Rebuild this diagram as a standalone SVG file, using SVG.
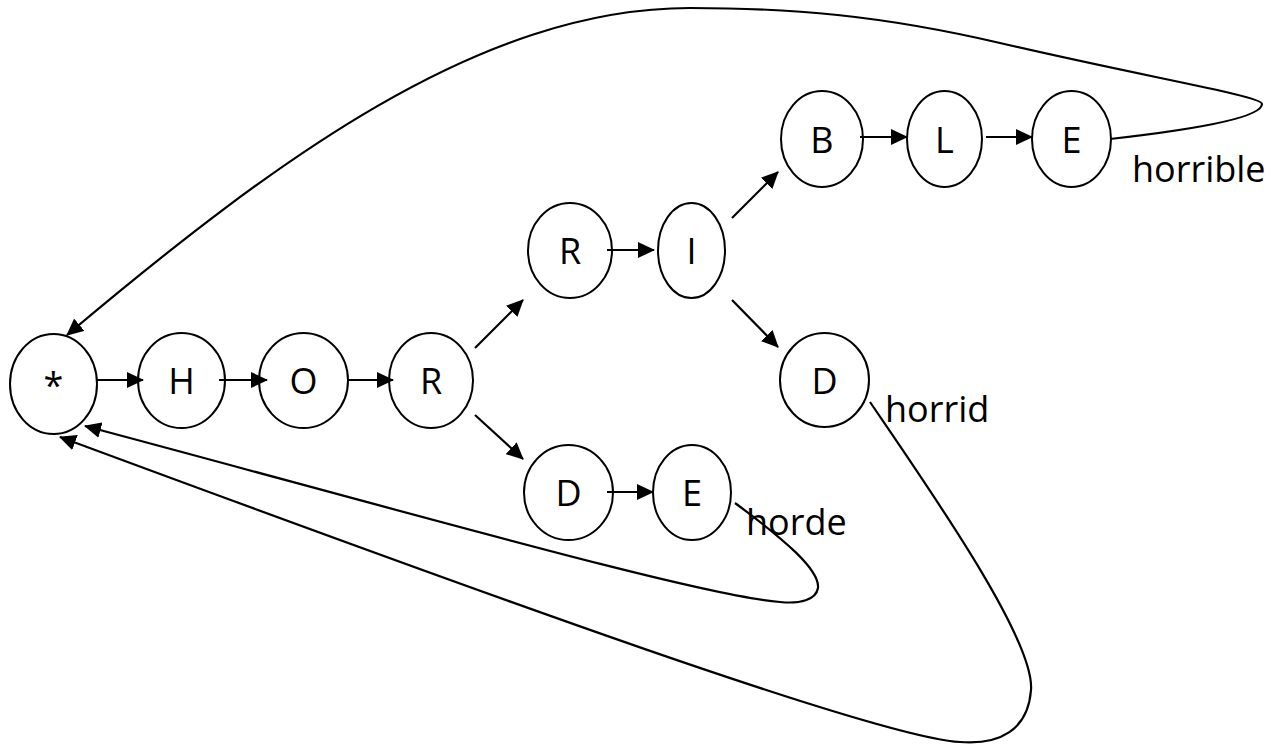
<svg xmlns="http://www.w3.org/2000/svg" width="1272" height="744" viewBox="0 0 1272 744">
<style>
.node ellipse{fill:#fff;stroke:#000;stroke-width:2}
.node text,.lbl{font-family:"Open Sans","Liberation Sans",sans-serif;font-size:36px;fill:#000}
.node text{text-anchor:middle}
.edge{fill:none;stroke:#000;stroke-width:2.2}
</style>
<defs>
<marker id="ah" markerUnits="userSpaceOnUse" markerWidth="17" markerHeight="16" viewBox="0 0 17 16" refX="16" refY="8" orient="auto">
<path d="M0,0 L17,8 L0,16 z" fill="#000"/>
</marker>
</defs>
<rect width="1272" height="744" fill="#fff"/>
<g id="nodes">
<g id="n-star" class="node"><ellipse cx="53.5" cy="384" rx="43.5" ry="50"/><text x="53.5" y="398">*</text></g>
<g id="n-H" class="node"><ellipse cx="181.5" cy="380.5" rx="43.5" ry="47.5"/><text x="181.5" y="394">H</text></g>
<g id="n-O" class="node"><ellipse cx="303.5" cy="380.5" rx="44.5" ry="47.5"/><text x="303.5" y="394">O</text></g>
<g id="n-R1" class="node"><ellipse cx="431" cy="380.5" rx="42" ry="47.5"/><text x="431" y="394">R</text></g>
<g id="n-R2" class="node"><ellipse cx="570" cy="250.5" rx="42" ry="47.5"/><text x="570" y="264">R</text></g>
<g id="n-I" class="node"><ellipse cx="691.5" cy="250.5" rx="33.5" ry="47.5"/><text x="691.5" y="264">I</text></g>
<g id="n-B" class="node"><ellipse cx="822" cy="139" rx="41" ry="48"/><text x="822" y="152.5">B</text></g>
<g id="n-L" class="node"><ellipse cx="944.5" cy="139" rx="37.5" ry="48"/><text x="944.5" y="152.5">L</text></g>
<g id="n-E1" class="node"><ellipse cx="1071.5" cy="139" rx="39.5" ry="48"/><text x="1071.5" y="152.5">E</text></g>
<g id="n-D1" class="node"><ellipse cx="824.5" cy="380" rx="44.5" ry="47"/><text x="824.5" y="393.5">D</text></g>
<g id="n-D2" class="node"><ellipse cx="568.5" cy="492.5" rx="44.5" ry="47.5"/><text x="568.5" y="506">D</text></g>
<g id="n-E2" class="node"><ellipse cx="692" cy="492.5" rx="39" ry="47.5"/><text x="692" y="506">E</text></g>
</g>
<g id="connectors">
<line class="edge" x1="97" y1="380" x2="143" y2="380" marker-end="url(#ah)"/>
<line class="edge" x1="219" y1="380" x2="267" y2="380" marker-end="url(#ah)"/>
<line class="edge" x1="347" y1="380" x2="393" y2="380" marker-end="url(#ah)"/>
<line class="edge" x1="475" y1="348" x2="523" y2="300" marker-end="url(#ah)"/>
<line class="edge" x1="475" y1="415" x2="523" y2="459" marker-end="url(#ah)"/>
<line class="edge" x1="607" y1="250" x2="654" y2="250" marker-end="url(#ah)"/>
<line class="edge" x1="732" y1="218" x2="778" y2="172" marker-end="url(#ah)"/>
<line class="edge" x1="732" y1="300" x2="778" y2="347" marker-end="url(#ah)"/>
<line class="edge" x1="860" y1="137" x2="907" y2="137" marker-end="url(#ah)"/>
<line class="edge" x1="986" y1="137" x2="1032" y2="137" marker-end="url(#ah)"/>
<line class="edge" x1="607" y1="492" x2="653" y2="492" marker-end="url(#ah)"/>
<path class="edge" d="M1110,139 C1190,130 1262,118 1262,104 C1262,96 1150,78 1000,43 C880,15 790,8 690,8 C480,8 275,160 67,335" marker-end="url(#ah)"/>
<path class="edge" d="M735,503 C785,540 820,570 818,588 C816,600 800,604 780,602 C700,596 400,510 85,426" marker-end="url(#ah)"/>
<path class="edge" d="M870,402 C930,490 1035,640 1031,690 C1028,730 1000,745 960,742 C880,738 500,600 60,437" marker-end="url(#ah)"/>
</g>
<g id="labels">
<text class="lbl" x="1132" y="182">horrible</text>
<text class="lbl" x="885" y="422">horrid</text>
<text class="lbl" x="746" y="535">horde</text>
</g>
</svg>
